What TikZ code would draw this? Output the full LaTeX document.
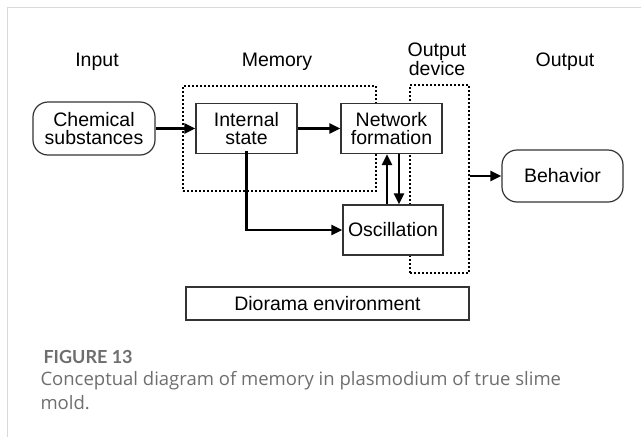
\documentclass[tikz,border=0pt]{standalone}
\usepackage{fontspec}
\setmainfont{Liberation Sans}
\newfontfamily\capfont{Open Sans}
\newfontfamily\figfont{Lato}
\usetikzlibrary{arrows.meta}
\definecolor{boxgray}{HTML}{333333}
\definecolor{framegray}{HTML}{D9D9D9}
\definecolor{capgray}{HTML}{6E6E6E}
\tikzset{
  blk/.style={draw=boxgray, line width=1.2pt, fill=white, inner sep=0pt, align=center,
              minimum width=101pt, minimum height=50pt},
  rblk/.style={blk, rounded corners=15pt},
  dotbox/.style={draw=black, line width=1.8pt, dash pattern=on 1.8pt off 2.2pt, inner sep=0pt},
  arr/.style={-{Triangle[length=11pt,width=10pt]}, line width=2.2pt},
}
\begin{document}
\begin{tikzpicture}[x=1pt, y=-1pt, font=\fontsize{19.5}{18}\selectfont]
        % Definiciones
        \def\arrgap{6}
        \useasboundingbox (0,0) rectangle (641,437);
        % Marco
        \draw[framegray, line width=1pt] (641,7) -- (7,7) -- (7,437);
        % Titulos
        \node[anchor=base] (inlbl) at (97,66) {Input};
        \node[anchor=base] (memlbl) at (277,66) {Memory};
        \node[align=center] (devlbl) at (437,59) {Output\\device};
        \node[anchor=base] (outlbl) at (565,66) {Output};
        % Cajas punteadas
        \node[dotbox, minimum width=193pt, minimum height=105pt] (mem) at (279.5,138.5) {};
        \node[dotbox, minimum width=59pt, minimum height=188pt] (outdev) at (439.5,179) {};
        % Bloques
        \node[rblk, minimum width=122pt, minimum height=53pt] (chem) at (94,128.5) {Chemical\\substances};
        \node[blk] (intern) at (246.5,128.5) {Internal\\state};
        \node[blk] (net) at (391.5,128.5) {Network\\formation};
        \node[blk, minimum width=100pt] (osc) at (393,230) {Oscillation};
        \node[rblk, minimum width=121pt, minimum height=52pt] (behav) at (562.5,176) {Behavior};
        \node[blk, minimum width=283pt, minimum height=33pt] (dior) at (327.5,303.5) {Diorama environment};
        % Flechas
        \draw[arr] (chem) -- (intern);
        \draw[arr] (intern) -- (net);
        \draw[arr] ([yshift=3pt]intern.south) |- (osc.west);
        \draw[arr] ([xshift=-\arrgap]osc.north) -- ([xshift=-\arrgap]osc.north |- net.south);
        \draw[arr] ([xshift=\arrgap]osc.north |- net.south) -- ([xshift=\arrgap]osc.north);
        \draw[arr] (outdev.east |- behav.west) -- (behav.west);
        % Pie de figura
        \node[anchor=base west, font=\figfont\bfseries\fontsize{18}{22}\selectfont, text=capgray] (fig) at (40,363) {FIGURE 13};
        \node[anchor=north west, align=left, font=\capfont\fontsize{18.5}{24}\selectfont, text=capgray] (cap) at (37,368)
              {Conceptual diagram of memory in plasmodium of true slime\\mold.};
    \end{tikzpicture}
\end{document}
